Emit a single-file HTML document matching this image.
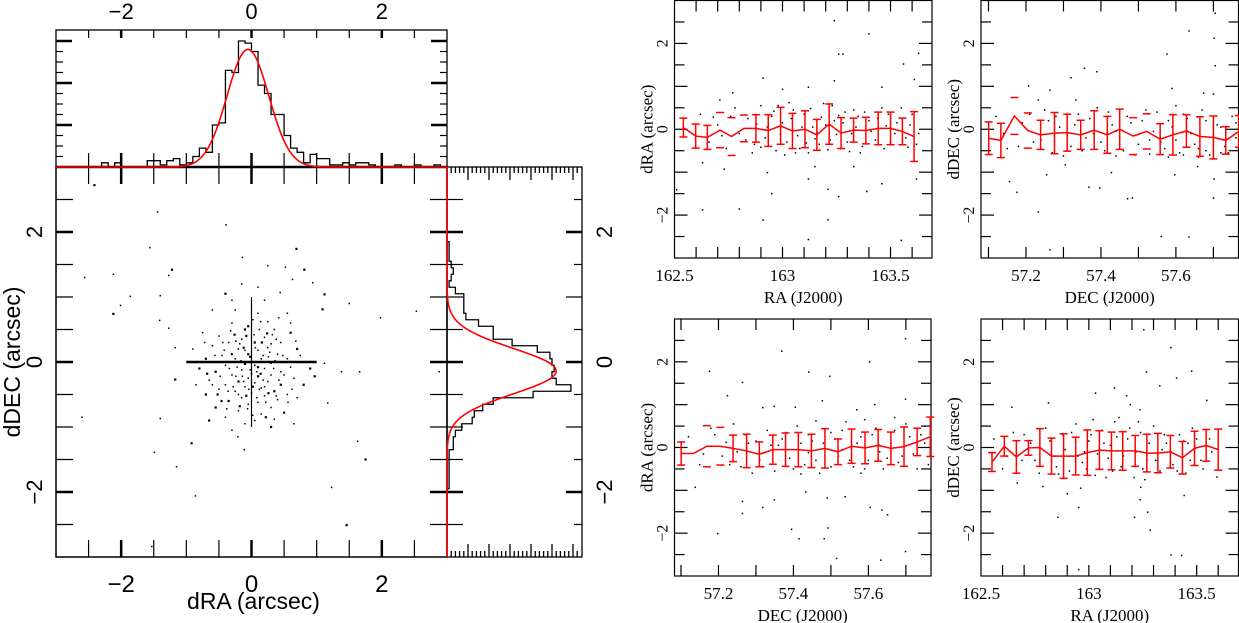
<!DOCTYPE html>
<html><head><meta charset="utf-8">
<style>
html,body{margin:0;padding:0;background:#fff;}
svg{display:block;}
.sans{font-family:"Liberation Sans",sans-serif;}
.serif{font-family:"Liberation Serif",serif;}
</style></head>
<body>
<svg id="fig" width="1239" height="623" viewBox="0 0 1239 623" xmlns="http://www.w3.org/2000/svg"></svg>
<script>
// ---------- DATA ----------
const mainPoints = [
[-2.41,2.72],[-1.44,2.31],[-0.39,2.11],[-1.56,1.76],[0.69,1.74],[-0.14,1.61],[-2.12,1.35],[-2.56,1.30],[-1.22,1.42],[-1.27,1.33],
[0.25,1.48],[0.52,1.46],[0.81,1.42],[0.63,1.27],[0.94,1.22],[0.44,1.07],[1.12,1.04],[-1.86,1.01],[-1.4,1.02],[-2.01,0.87],
[-2.12,0.74],[1.5,0.9],[2.53,0.78],[1.98,0.68],[1.09,0.81],[-1.41,0.64],[-1.27,0.52],[-1.17,0.22],[-1.17,-0.27],[1.38,-0.15],
[1.66,-0.15],[1.12,-0.02],[0.97,-0.22],[1.17,-0.63],[-2.6,-0.85],[-1.4,-0.87],[-0.92,-1.25],[-0.11,-1.35],[-1.49,-1.39],[1.63,-1.22],
[1.75,-1.5],[-1.15,-1.61],[1.23,-1.93],[-0.86,-2.06],[1.46,-2.51],[-1.53,-2.84],[2.88,-0.15],[-0.21,-1.15],
[-0.05,0.55],[0.1,0.75],[-0.3,0.6],[0.35,0.5],[0.6,0.45],[-0.5,0.4],[0.2,0.38],[-0.15,0.35],[0.05,0.3],[0.45,0.3],
[-0.35,0.3],[-0.6,0.25],[0.7,0.2],[0.25,0.22],[-0.2,0.2],[0.1,0.18],[-0.05,0.12],[0.4,0.12],[-0.45,0.1],[0.55,0.05],
[-0.7,0.05],[0.15,0.05],[-0.25,0.05],[0.3,-0.02],[-0.1,-0.03],[0.05,-0.05],[-0.4,-0.05],[0.6,-0.08],[-0.8,-0.1],[0.2,-0.1],
[-0.15,-0.12],[0.45,-0.15],[-0.55,-0.15],[0.0,-0.18],[-0.3,-0.2],[0.3,-0.2],[0.1,-0.22],[-0.05,-0.25],[0.65,-0.25],[-0.65,-0.28],
[-0.2,-0.3],[0.25,-0.3],[0.05,-0.32],[-0.4,-0.35],[0.45,-0.35],[-0.1,-0.38],[0.15,-0.4],[-0.5,-0.42],[0.35,-0.45],[-0.25,-0.45],
[0.0,-0.48],[0.55,-0.5],[-0.7,-0.5],[0.2,-0.52],[-0.15,-0.55],[0.4,-0.58],[-0.35,-0.6],[0.1,-0.62],[-0.05,-0.65],[0.7,-0.55],
[-0.55,-0.7],[0.3,-0.7],[-0.2,-0.75],[0.15,-0.8],[0.5,-0.78],[-0.4,-0.85],[0.05,-0.9],[-0.1,-0.95],[0.3,-1.0],[-0.3,-1.05],
[0.6,0.6],[-0.75,0.45],[0.8,-0.35],[-0.85,-0.35],[0.75,0.1],[-0.9,0.2],[0.9,-0.1],[0.55,0.75],[-0.6,0.8],[0.2,0.95],
[-0.4,1.05],[0.25,0.62],[-0.25,0.8],[0.35,-0.88],[-0.65,-0.9],[0.65,-0.95],[0.1,1.15],[-0.15,1.2],
[-0.08,0.4],[0.12,0.5],[-0.22,-0.08],[0.18,0.1],[-0.12,0.22],[0.08,-0.15],[-0.28,-0.38],[0.22,-0.62],[-0.02,0.08],[0.38,0.35],
[-0.32,0.48],[0.28,0.15],[-0.18,-0.68],[0.42,-0.28],[-0.48,-0.22],[0.12,-0.42],[-0.08,-0.52],[0.32,0.42],[-0.42,0.18],[0.02,0.65],
[-0.26,0.42],[-0.18,0.28],[-0.1,0.18],[0.06,0.22],[0.16,0.3],[0.26,0.08],[0.34,-0.1],[0.18,-0.28],[0.02,-0.38],[-0.12,-0.3],
[-0.24,-0.22],[-0.34,-0.1],[-0.3,0.12],[-0.2,-0.5],[-0.06,-0.72],[0.08,-0.55],[0.26,-0.48],[0.38,-0.52],[0.5,-0.2],[0.48,0.1],
[-0.52,-0.5],[-0.6,-0.35],[-0.44,0.3],[0.14,0.62],[-0.1,0.5],[0.3,0.28],[-0.38,-0.72],[0.02,-0.82],[0.22,-0.85],[-0.3,0.95],
[0.42,0.68],[-0.16,0.02],[0.1,-0.08],[-0.02,-0.12],[0.2,-0.38],[-0.36,-0.45],[-0.46,-0.6],[0.56,-0.62],[0.62,-0.42],[0.68,0.32],
[-0.68,-0.18],[-0.72,0.3],[0.04,0.42],[-0.04,-0.42],[0.14,-0.18],[-0.14,-0.22],[0.36,0.02],[-0.24,0.32],[0.24,0.44],[-0.56,0.1]
];
const histXBins = [-2.25,-2.05,-1.55,-1.45,-1.35,-1.25,-1.15,-1.05,-0.95,-0.85,-0.75,-0.65,-0.55,-0.45,-0.35,-0.25,-0.15,-0.05,0.05,0.15,0.25,0.35,0.45,0.55,0.65,0.75,0.85,0.95,1.05,1.15,1.25,1.35,1.45,1.55,1.65,1.75,1.85,2.25,2.55,2.85];
const histXCounts = [2,2,3,3,1,3,4,1,2,5,9,7,20,21,46,45,60,59,55,39,35,25,25,15,9,7,2,6,4,4,1,1,2,1,2,2,1,1,1,1];
const fitX = [56, -0.055, 0.32];
const histYBins = [1.8,1.7,1.6,1.5,1.4,1.3,1.2,1.1,1.0,0.9,0.8,0.7,0.6,0.5,0.4,0.3,0.2,0.1,0.0,-0.1,-0.2,-0.3,-0.4,-0.5,-0.6,-0.7,-0.8,-0.9,-1.0,-1.1,-1.2,-1.3,-1.4,-1.5,-1.6,-1.7,-1.8,-1.9];
const histYCounts = [1,1,1,2,3,2,1,4,8,8,8,9,15,22,22,31,43,49,50,51,50,52,59,41,22,17,13,12,7,4,3,3,1,1,1,1,1,1];
const fitY = [52, -0.14, 0.35];

const p1Pos = [162.541,162.598,162.652,162.711,162.764,162.821,162.877,162.934,162.991,163.046,163.104,163.159,163.216,163.271,163.329,163.386,163.443,163.5,163.555,163.609];
const p1Mean = [0.04,-0.16,-0.19,-0.02,-0.17,0.02,0.02,-0.03,0.08,-0.04,0,-0.13,0.12,-0.09,-0.02,-0.03,0.02,0.02,-0.05,-0.17];
const p1Err = [0.22,0.28,0.28,0.41,0.44,0.31,0.32,0.37,0.43,0.41,0.43,0.36,0.47,0.36,0.28,0.31,0.38,0.38,0.31,0.58];
const p1CapsOnly = [0,0,0,1,1,1,0,0,0,0,0,0,0,0,0,0,0,0,0,0];
const p1Points = [
[163.24,2.53],[163.40,2.22],[163.26,1.75],[163.28,1.75],[163.56,1.52],[163.63,1.77],[162.91,1.19],[163.24,1.13],[163.12,0.98],[163.0,0.93],
[163.46,0.98],[162.77,0.85],[163.61,1.16],[162.71,0.68],[162.63,-0.78],[162.73,-0.93],[162.93,-1.01],[163.15,-0.87],[163.33,-0.87],[163.12,-1.16],
[163.21,-1.4],[163.26,-1.57],[163.39,-1.45],[163.46,-1.27],[162.95,-1.5],[162.51,-1.41],[162.63,-1.88],[162.80,-1.86],[162.91,-2.12],[163.21,-2.11],
[163.12,-2.57],[163.55,-2.59],[163.62,-1.16],
[162.62,0.35],[162.66,-0.3],[162.7,0.1],[162.74,-0.45],[162.78,0.5],[162.8,-0.1],[162.84,0.25],[162.87,-0.35],[162.9,0.55],[162.92,-0.2],
[162.95,0.3],[162.97,-0.5],[163.0,0.15],[163.02,-0.3],[163.05,0.45],[163.07,-0.15],[163.1,0.35],[163.12,-0.55],[163.14,0.05],[163.17,-0.35],
[163.19,0.6],[163.22,-0.25],[163.24,0.2],[163.27,-0.45],[163.29,0.4],[163.32,-0.1],[163.35,0.3],[163.37,-0.4],[163.4,0.2],[163.43,-0.25],
[163.46,0.5],[163.5,-0.3],[163.53,0.15],[163.57,-0.2],[163.6,0.35],[163.63,-0.1],[162.98,0.55],[163.08,-0.45],[163.2,0.1],[163.33,0.45],
[162.68,0.28],[162.86,-0.55],[163.03,0.62],[163.16,-0.08],[163.31,-0.52],[163.48,0.08],[163.58,-0.42],[162.93,0.05],[163.11,-0.32],[163.26,0.32],
[162.88,0.12],[162.9,-0.42],[162.96,0.42],[162.99,-0.12],[163.04,0.25],[163.06,-0.55],[163.09,0.05],[163.13,0.48],[163.15,-0.22],[163.18,0.28],
[163.21,-0.48],[163.23,0.55],[163.25,-0.12],[163.28,0.15],[163.3,-0.3],[163.34,0.05],[163.36,-0.55],[163.38,0.4],[163.41,-0.05],[163.44,0.25],
[163.47,-0.45],[163.49,0.35],[163.52,-0.1],[163.55,0.5],[163.59,0.1],[163.62,-0.35],[162.83,-0.25],[162.76,0.3],[162.72,-0.15],[163.01,-0.6]
];
const p2Pos = [57.1005,57.133,57.169,57.205,57.239,57.276,57.31,57.346,57.382,57.417,57.45,57.486,57.522,57.558,57.592,57.628,57.664,57.7,57.733,57.768];
const p2Mean = [-0.21,-0.26,0.31,-0.03,-0.13,-0.09,-0.08,-0.13,-0.02,-0.13,0,-0.16,-0.05,-0.23,-0.13,-0.04,-0.17,-0.19,-0.26,-0.05];
const p2Err = [0.38,0.40,0.43,0.41,0.34,0.48,0.43,0.34,0.45,0.43,0.47,0.43,0.41,0.36,0.47,0.38,0.46,0.50,0.32,0.37];
const p2CapsOnly = [0,0,1,1,0,0,0,0,0,0,0,1,1,0,0,0,0,0,0,0];
const p2Points = [
[57.705,2.70],[57.635,2.29],[57.702,2.12],[57.576,1.75],[57.705,1.48],[57.356,1.42],[57.389,1.34],[57.32,1.2],[57.207,1.01],[57.264,0.91],
[57.59,0.95],[57.674,0.84],[57.333,0.68],[57.233,0.68],[57.156,-1.22],[57.176,-1.47],[57.233,-1.93],[57.255,-1.06],[57.305,-0.83],[57.368,-1.35],
[57.397,-1.37],[57.428,-1.01],[57.471,-1.62],[57.484,-1.6],[57.561,-2.5],[57.635,-2.51],[57.7,-1.6],[57.702,-1.16],[57.658,-0.87],[57.264,-2.81],
[57.597,-1.06],[57.70,0.82],
[57.12,0.3],[57.15,-0.45],[57.19,0.15],[57.22,-0.3],[57.25,0.45],[57.27,-0.55],[57.29,0.05],[57.32,-0.4],[57.34,0.35],[57.36,-0.2],
[57.39,0.5],[57.41,-0.5],[57.43,0.1],[57.45,-0.35],[57.47,0.3],[57.49,-0.6],[57.51,0.2],[57.53,-0.25],[57.55,0.4],[57.57,-0.45],
[57.59,0.05],[57.61,-0.55],[57.63,0.25],[57.65,-0.35],[57.67,0.45],[57.69,-0.6],[57.71,0.1],[57.73,-0.4],[57.75,0.3],[57.76,-0.2],
[57.3,-0.62],[57.44,-0.62],[57.58,-0.65],[57.62,-0.6],[57.68,-0.5],[57.26,0.2],[57.38,-0.1],[57.5,-0.12],[57.6,0.55],[57.72,-0.55],
[57.24,-0.25],[57.28,0.3],[57.31,-0.15],[57.33,0.1],[57.35,-0.5],[57.37,0.25],[57.4,-0.3],[57.42,0.4],[57.44,-0.05],[57.46,-0.5],
[57.48,0.15],[57.5,-0.35],[57.52,0.45],[57.54,-0.05],[57.56,-0.3],[57.58,0.2],[57.6,-0.25],[57.62,0.35],[57.64,-0.1],[57.66,-0.45],
[57.68,0.2],[57.7,-0.3],[57.72,0.05],[57.74,-0.55],[57.76,0.15],[57.14,-0.1],[57.18,-0.4],[57.21,0.35],[57.66,-0.65],[57.53,-0.58]
];
const p3Pos = [57.1005,57.133,57.169,57.205,57.239,57.275,57.309,57.345,57.379,57.413,57.448,57.484,57.519,57.555,57.591,57.626,57.66,57.695,57.73,57.765];
const p3Mean = [-0.14,-0.14,0.03,0.03,-0.02,-0.08,-0.16,-0.05,-0.05,-0.05,-0.08,-0.02,-0.1,0.03,-0.01,0.05,-0.02,0.02,0.13,0.25];
const p3Err = [0.27,0,0.48,0.44,0.31,0.39,0.29,0.34,0.39,0.40,0.39,0.46,0.30,0.40,0.37,0.37,0.38,0.46,0.32,0.46];
const p3CapsOnly = [0,2,1,1,0,0,0,0,0,0,0,0,0,0,0,0,0,0,0,0];
const p3Points = [
[57.176,1.78],[57.264,1.52],[57.369,2.25],[57.441,1.76],[57.497,1.66],[57.603,2.0],[57.699,2.54],[57.699,1.13],[57.224,1.21],[57.349,0.96],
[57.318,0.93],[57.405,0.94],[57.477,1.09],[57.569,0.88],[57.617,1.0],[57.138,-0.93],[57.264,-1.26],[57.264,-1.54],[57.318,-1.4],[57.349,-1.22],
[57.433,-1.04],[57.49,-1.18],[57.538,-1.15],[57.605,-1.4],[57.636,-1.46],[57.651,-1.57],[57.198,-2.01],[57.395,-1.91],[57.415,-2.13],[57.482,-2.13],
[57.492,-1.88],[57.515,-2.59],[57.633,-2.63],[57.699,-2.43],
[57.12,0.25],[57.15,-0.4],[57.18,0.45],[57.21,-0.2],[57.24,0.55],[57.26,-0.45],[57.28,0.1],[57.31,-0.3],[57.33,0.4],[57.35,-0.55],
[57.37,0.2],[57.39,-0.25],[57.41,0.5],[57.43,-0.4],[57.45,0.15],[57.47,-0.6],[57.5,0.35],[57.52,-0.2],[57.54,0.6],[57.56,-0.45],
[57.58,0.25],[57.6,-0.3],[57.62,0.45],[57.64,-0.5],[57.66,0.1],[57.68,-0.35],[57.7,0.55],[57.72,-0.15],[57.74,0.3],[57.76,-0.4],
[57.29,-0.6],[57.46,0.62],[57.59,0.65],[57.67,0.7],[57.36,0.05],[57.53,-0.05],[57.63,-0.1],[57.22,0.12],[57.44,-0.12],[57.75,0.5],
[57.25,-0.1],[57.27,0.3],[57.3,0.15],[57.32,-0.45],[57.34,0.05],[57.38,0.35],[57.4,-0.5],[57.42,0.1],[57.44,0.3],[57.46,-0.3],
[57.48,0.1],[57.5,-0.45],[57.51,0.2],[57.53,0.4],[57.55,-0.3],[57.57,0.1],[57.59,-0.5],[57.61,0.3],[57.63,0.05],[57.65,-0.25],
[57.67,0.4],[57.69,-0.2],[57.71,0.25],[57.73,-0.5],[57.75,0.1],[57.19,0.3],[57.16,-0.15],[57.23,-0.4],[57.58,-0.6],[57.42,-0.62]
];
const p4Pos = [162.551,162.608,162.664,162.72,162.773,162.827,162.883,162.939,162.993,163.049,163.105,163.157,163.215,163.269,163.32,163.378,163.434,163.49,163.544,163.6];
const p4Mean = [-0.34,0.03,-0.22,-0.01,0,-0.2,-0.2,-0.2,-0.12,-0.06,-0.08,-0.08,-0.08,-0.13,-0.13,-0.1,-0.24,-0.02,0.05,-0.05];
const p4Err = [0.22,0.23,0.38,0.17,0.44,0.42,0.52,0.44,0.53,0.45,0.44,0.45,0.36,0.44,0.46,0.38,0.38,0.40,0.37,0.48];
const p4CapsOnly = [0,0,0,0,0,0,0,0,0,0,0,0,0,0,0,0,0,0,0,0];
const p4Points = [
[163.255,2.75],[163.381,2.33],[163.477,1.78],[163.407,1.62],[163.267,1.76],[163.329,1.44],[163.547,1.10],[163.119,1.39],[163.175,1.21],[163.031,1.27],
[163.192,1.0],[162.813,1.04],[162.643,0.94],[163.238,0.88],[162.9,-1.08],[162.857,-1.63],[162.953,-1.4],[162.962,-0.95],[163.238,-1.22],[163.241,-0.93],
[163.285,-1.93],[163.273,-1.51],[163.212,-1.63],[163.442,-1.12],[163.381,-2.51],[163.43,-2.52],[162.953,-2.85],[162.787,-0.91],[162.668,-0.83],[163.594,-0.69],
[162.56,0.2],[162.6,-0.5],[162.65,0.35],[162.69,-0.3],[162.73,0.1],[162.77,-0.6],[162.8,0.45],[162.84,-0.2],[162.88,0.3],[162.91,-0.55],
[162.94,0.55],[162.97,-0.35],[163.0,0.15],[163.03,-0.65],[163.06,0.4],[163.09,-0.25],[163.12,0.6],[163.15,-0.45],[163.18,0.2],[163.21,-0.7],
[163.24,0.35],[163.27,-0.3],[163.3,0.5],[163.33,-0.55],[163.36,0.1],[163.39,-0.4],[163.42,0.3],[163.45,-0.6],[163.48,0.45],[163.52,-0.3],
[163.56,0.2],[163.6,-0.45],[162.86,-0.62],[163.02,0.65],[163.14,0.7],[163.26,-0.75],[162.98,-0.1],[163.1,0.05],[163.34,-0.05],[163.46,0.1],
[162.82,0.15],[162.85,-0.45],[162.89,-0.05],[162.92,0.35],[162.95,-0.2],[162.99,-0.5],[163.01,0.3],[163.04,-0.15],[163.07,0.1],[163.11,-0.55],
[163.13,0.25],[163.16,-0.2],[163.19,0.45],[163.22,-0.1],[163.25,-0.5],[163.28,0.1],[163.31,-0.3],[163.35,0.3],[163.38,-0.1],[163.41,-0.55],
[163.44,0.15],[163.47,-0.3],[163.5,0.2],[163.53,-0.5],[163.57,-0.1],[162.62,-0.2],[162.7,0.3],[162.75,-0.3],[163.23,0.6],[163.08,-0.7]
];

// ---------- HELPERS ----------
const NS = "http://www.w3.org/2000/svg";
const svg = document.getElementById('fig');
function lin(d0,d1,r0,r1){ return v => r0 + (v-d0)*(r1-r0)/(d1-d0); }
function mk(tag, attrs, parent){
  const e = document.createElementNS(NS, tag);
  for (const k in attrs) e.setAttribute(k, attrs[k]);
  (parent||svg).appendChild(e);
  return e;
}
function line(x1,y1,x2,y2,w,col,parent){
  return mk('line',{x1:x1,y1:y1,x2:x2,y2:y2,stroke:col||'#000','stroke-width':w||1},parent);
}
function txt(x,y,s,size,cls,rot,parent){
  const t = mk('text',{x:x,y:y,'font-size':size,'text-anchor':'middle',fill:'#000','class':cls},parent);
  if (rot) t.setAttribute('transform','rotate(-90 '+x+' '+y+')');
  t.textContent = s;
  return t;
}
function gauss(p, v){ return p[0]*Math.exp(-0.5*Math.pow((v-p[1])/p[2],2)); }
// step outline: returns list of [edgeLo, edgeHi, count] runs sorted ascending
function stepRuns(bins, counts, bw){
  const idx = bins.map((b,i)=>i).sort((a,b)=>bins[a]-bins[b]);
  const runs=[]; let cur=null, prev=null;
  idx.forEach(i=>{
    if (cur && Math.abs(bins[i]-prev-bw)<1e-6) cur.push(i); else { cur=[i]; runs.push(cur); }
    prev=bins[i];
  });
  return runs;
}

// ---------- LEFT: MAIN SCATTER ----------
const MX0=56, MX1=447, MY0=557, MY1=167;
const mx = lin(-3,3,MX0,MX1), my = lin(-3,3,MY0,MY1);
const gMain = mk('g',{});


const mainFrame = mk('rect',{x:MX0,y:MY1,width:MX1-MX0,height:MY0-MY1,fill:'none',stroke:'#000','stroke-width':1.5},gMain);


for (let i=-6;i<=6;i++){
  const v=i*0.5; if (v<=-3||v>=3) continue;
  const thick = (i%4===0)?2.5:1.2;
  line(mx(v),MY0,mx(v),MY0-17,thick,'#000',gMain);
  line(mx(v),MY1,mx(v),MY1+17,thick,'#000',gMain);
  line(MX0,my(v),MX0+17,my(v),thick,'#000',gMain);
  line(MX1,my(v),MX1-17,my(v),thick,'#000',gMain);
}
const gMainPts = mk('g',{fill:'#000'},gMain);


mainPoints.forEach((p,i)=>{
  const s = (i%4===0)?2.2:1.5;
  const r = mk('rect',{x:mx(p[0])-s/2,y:my(p[1])-s/2,width:s,height:s},gMainPts);
  
  
});
const crossH = line(mx(-1),my(0),mx(1),my(0),2.5,'#000',gMain);


const crossV = line(mx(0),my(1),mx(0),my(-1),1.2,'#000',gMain);


[-2,0,2].forEach(v=>{
  const t1 = txt(mx(v),592,v<0?'\u22122':String(v),24,'sans',false,gMain);
  
  
  const t2 = txt(mx(v),19,v<0?'\u22122':String(v),22,'sans',false,gMain);
  
  
  const t3 = txt(42,my(v),v<0?'\u22122':String(v),22,'sans',true,gMain);
  
  
  const t4 = txt(612,my(v),v<0?'\u22122':String(v),22,'sans',true,gMain);
  
  
});
const xTitle = txt(mx(0)+2,609,'dRA (arcsec)',23,'sans',false,gMain);


const yTitle = txt(20,my(0),'dDEC (arcsec)',23,'sans',true,gMain);



// ---------- TOP HISTOGRAM ----------
const HT=30, CPX=2.1, bw=0.1;
const hy = c => MY1 - c*CPX;
const gTop = mk('g',{});


const topFrame = mk('rect',{x:MX0,y:HT,width:MX1-MX0,height:MY1-HT,fill:'none',stroke:'#000','stroke-width':1.3},gTop);


for (let i=-6;i<=6;i++){
  const v=i*0.5; if (v<=-3||v>=3) continue;
  const thick=(i%4===0)?2.5:1.2;
  line(mx(v),HT,mx(v),HT+8,thick,'#000',gTop);
  line(mx(v),MY1,mx(v),MY1-14,thick,'#000',gTop);
}
for (let c=5;c<=60;c+=5){
  const maj = c%20===0;
  line(MX0,hy(c),MX0+(maj?16:7),hy(c),maj?2.5:1.2,'#000',gTop);
  line(MX1,hy(c),MX1-(maj?16:7),hy(c),maj?2.5:1.2,'#000',gTop);
}
let dTop='';
stepRuns(histXBins,histXCounts,bw).forEach(run=>{
  dTop += 'M'+mx(histXBins[run[0]]-bw/2).toFixed(2)+' '+MY1;
  run.forEach(i=>{
    dTop += 'V'+hy(histXCounts[i]).toFixed(2)+'H'+mx(histXBins[i]+bw/2).toFixed(2);
  });
  dTop += 'V'+MY1;
});
const topHist = mk('path',{d:dTop,fill:'none',stroke:'#000','stroke-width':1.3},gTop);


const topBase = line(MX0,MY1,MX1,MY1,2.5,'#000',gTop);


let dFitX='';
for (let v=-3; v<=3.0001; v+=0.02){ dFitX += (dFitX?'L':'M')+mx(v).toFixed(2)+' '+hy(gauss(fitX,v)).toFixed(2); }
const fitXPath = mk('path',{d:dFitX,fill:'none',stroke:'#f00','stroke-width':1.6},gTop);



// ---------- RIGHT HISTOGRAM ----------
const RX1=582;
const hx = c => MX1 + c*CPX;
const gRight = mk('g',{});


const rightFrame = mk('rect',{x:MX1,y:MY1,width:RX1-MX1,height:MY0-MY1,fill:'none',stroke:'#000','stroke-width':1.3},gRight);


for (let i=-6;i<=6;i++){
  const v=i*0.5; if (v<=-3||v>=3) continue;
  const thick=(i%4===0)?2.5:1.2;
  line(MX1,my(v),MX1+16,my(v),thick,'#000',gRight);
  line(RX1,my(v),RX1-(i%2===0?16:8),my(v),thick,'#000',gRight);
}
for (let c=2;c<=62;c+=2){
  const maj=c%10===0;
  line(hx(c),MY1,hx(c),MY1+(maj?13:6),1.3,'#000',gRight);
  line(hx(c),MY0,hx(c),MY0-(maj?13:6),1.3,'#000',gRight);
}
let dRight='';
stepRuns(histYBins,histYCounts,bw).forEach(run=>{
  dRight += 'M'+MX1+' '+my(histYBins[run[0]]-bw/2).toFixed(2);
  run.forEach(i=>{
    dRight += 'H'+hx(histYCounts[i]).toFixed(2)+'V'+my(histYBins[i]+bw/2).toFixed(2);
  });
  dRight += 'H'+MX1;
});
const rightHist = mk('path',{d:dRight,fill:'none',stroke:'#000','stroke-width':1.3},gRight);


let dFitY='';
for (let v=3; v>=-3.0001; v-=0.02){ dFitY += (dFitY?'L':'M')+hx(gauss(fitY,v)).toFixed(2)+' '+my(v).toFixed(2); }
const fitYPath = mk('path',{d:dFitY,fill:'none',stroke:'#f00','stroke-width':1.6},gRight);



// ---------- SMALL PANELS ----------
function smallPanel(cfg){
  const g = mk('g',{});
  
  
  const sx = lin(cfg.xd[0],cfg.xd[1],cfg.x0,cfg.x1);
  const sy = lin(-3,3,cfg.y1,cfg.y0);
  const fr = mk('rect',{x:cfg.x0,y:cfg.y0,width:cfg.x1-cfg.x0,height:cfg.y1-cfg.y0,fill:'none',stroke:'#000','stroke-width':1.2},g);
  
  
  for (let i=-5;i<=5;i++){
    const v=i*0.5, L=(i%2===0)?13:10;
    line(cfg.x0,sy(v),cfg.x0+L,sy(v),1.2,'#000',g);
    line(cfg.x1,sy(v),cfg.x1-L,sy(v),1.2,'#000',g);
  }
  const n0=Math.ceil(cfg.xd[0]/cfg.minor-1e-6), n1=Math.floor(cfg.xd[1]/cfg.minor+1e-6);
  for (let n=n0;n<=n1;n++){
    const v=n*cfg.minor; const px=sx(v);
    if (px<cfg.x0+1||px>cfg.x1-1) continue;
    line(px,cfg.y1,px,cfg.y1-11,1.2,'#000',g);
    line(px,cfg.y0,px,cfg.y0+11,1.2,'#000',g);
  }
  cfg.xlabels.forEach(v=>{
    const t = txt(sx(v),cfg.y1+23,cfg.xfmt(v),17,'serif',false,g);
    
    
  });
  [-2,0,2].forEach(v=>{
    const t = txt(cfg.x0-7,sy(v),v<0?'\u22122':String(v),16,'serif',true,g);
    
    
  });
  const xt = txt((cfg.x0+cfg.x1)/2,cfg.y1+45,cfg.xtitle,17,'serif',false,g);
  
  
  const yt = txt(cfg.x0-22,sy(0),cfg.ytitle,17,'serif',true,g);
  
  
  const gp = mk('g',{fill:'#000'},g);
  
  
  cfg.points.forEach(p=>{
    const px=sx(p[0]), py=sy(p[1]);
    if (px<cfg.x0||px>cfg.x1) return;
    const r = mk('rect',{x:px-0.75,y:py-0.75,width:1.5,height:1.5},gp);
    
    
  });
  let d='';
  cfg.pos.forEach((v,i)=>{ d += (i?'L':'M')+sx(v).toFixed(2)+' '+sy(cfg.mean[i]).toFixed(2); });
  const ml = mk('path',{d:d,fill:'none',stroke:'#f00','stroke-width':1.5},g);
  
  
  cfg.pos.forEach((v,i)=>{
    const mode = cfg.caps[i];
    if (mode===2) return;
    const px=sx(v), yt2=sy(cfg.mean[i]+cfg.err[i]), yb=sy(cfg.mean[i]-cfg.err[i]);
    const eg = mk('g',{stroke:'#f00','stroke-width':1.5},g);
    
    
    if (mode===0) line(px,yt2,px,yb,1.5,'#f00',eg);
    line(px-4,yt2,px+4,yt2,1.5,'#f00',eg);
    line(px-4,yb,px+4,yb,1.5,'#f00',eg);
  });
}
const raFmt = v => (Math.abs(v-Math.round(v))<1e-6)?String(Math.round(v)):v.toFixed(1);
const decFmt = v => v.toFixed(1);
smallPanel({name:'ra-vs-dra-panel',x0:674.5,x1:932,y0:0.5,y1:258,xd:[162.5,163.692],minor:0.1,xlabels:[162.5,163,163.5],xfmt:raFmt,
  xtitle:'RA (J2000)',ytitle:'dRA (arcsec)',points:p1Points,pos:p1Pos,mean:p1Mean,err:p1Err,caps:p1CapsOnly});
smallPanel({name:'dec-vs-ddec-panel',x0:981,x1:1238.5,y0:0.5,y1:258,xd:[57.08,57.767],minor:0.1,xlabels:[57.2,57.4,57.6],xfmt:decFmt,
  xtitle:'DEC (J2000)',ytitle:'dDEC (arcsec)',points:p2Points,pos:p2Pos,mean:p2Mean,err:p2Err,caps:p2CapsOnly});
smallPanel({name:'dec-vs-dra-panel',x0:674.5,x1:931,y0:319,y1:576,xd:[57.0827,57.767],minor:0.1,xlabels:[57.2,57.4,57.6],xfmt:decFmt,
  xtitle:'DEC (J2000)',ytitle:'dRA (arcsec)',points:p3Points,pos:p3Pos,mean:p3Mean,err:p3Err,caps:p3CapsOnly});
smallPanel({name:'ra-vs-ddec-panel',x0:981,x1:1238.5,y0:319,y1:576,xd:[162.5,163.694],minor:0.1,xlabels:[162.5,163,163.5],xfmt:raFmt,
  xtitle:'RA (J2000)',ytitle:'dDEC (arcsec)',points:p4Points,pos:p4Pos,mean:p4Mean,err:p4Err,caps:p4CapsOnly});
</script>
</body></html>
